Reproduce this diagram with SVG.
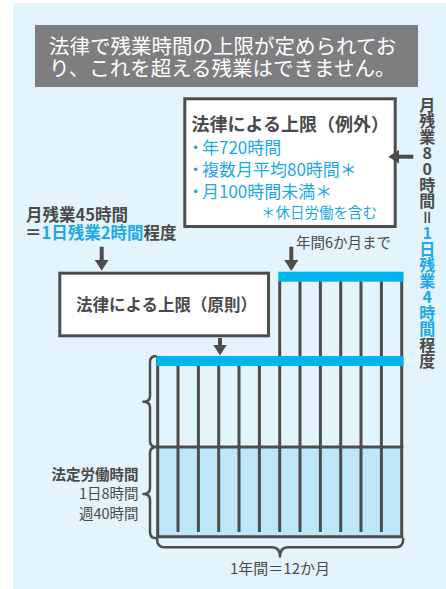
<svg xmlns="http://www.w3.org/2000/svg" width="446" height="589" viewBox="0 0 446 589">
<defs>
<style>
text{font-family:"Noto Sans CJK JP","Noto Sans CJK SC",sans-serif;fill:#4a4a4a}
.b{font-weight:700}
.n{font-weight:400}
.blue{fill:#1ca9e6}
.box{fill:#fff;stroke:#4d4d4d;stroke-width:3}
.ln{stroke:#4d4d4d;stroke-width:3;fill:none}
.arr{stroke:#4d4d4d;stroke-width:4;fill:none;marker-end:url(#ah)}
.brace{stroke:#4d4d4d;stroke-width:2.5;fill:none;stroke-linejoin:round}
.bar{fill:#00b4ef}
</style>
<marker id="ah" viewBox="0 0 11 14" refX="3" refY="7" markerWidth="11" markerHeight="14" orient="auto" markerUnits="userSpaceOnUse">
<path d="M0,0 L11,7 L0,14 Z" fill="#4d4d4d"/>
</marker>
</defs>
<rect x="13" y="3" width="433" height="586" fill="#e3f4fc"/>

<g id="title">
<rect x="35" y="25" width="383" height="62" fill="#7e7e80"/>
<text font-size="20.5" style="fill:#fff"><tspan x="49" y="53.5">法律で残業時間の上限が定められてお</tspan><tspan x="49" y="75.5">り、これを超える残業はできません。</tspan></text>
</g>

<g id="exception">
<rect class="box" x="184.8" y="98.8" width="210.4" height="127.7"/>
<text class="b" font-size="18"><tspan x="191.5" y="130.5">法律による上限（例外）</tspan><tspan class="blue n" font-size="17" x="187" y="154">・<tspan dx="-2">年720時間</tspan></tspan><tspan class="blue n" font-size="17" x="187" y="176">・<tspan dx="-2">複数月平均80時間＊</tspan></tspan><tspan class="blue n" font-size="17" x="187" y="198">・<tspan dx="-2">月100時間未満＊</tspan></tspan><tspan class="blue n" font-size="14.5" x="261" y="218">＊休日労働を含む</tspan></text>
</g>

<g id="monthly80">
<text class="b" x="427.3" y="97" font-size="16" style="writing-mode:vertical-rl;text-orientation:upright">月残業80時間＝<tspan class="blue">1日残業4時間</tspan>程度</text>
</g>

<g id="monthly45">
<text class="b" font-size="16.5"><tspan x="26" y="220.5">月残業45時間</tspan><tspan x="25" y="239">＝<tspan class="blue">1日残業2時間</tspan>程度</tspan></text>
</g>

<g id="principle">
<rect class="box" x="59.8" y="273.2" width="208.7" height="62.6"/>
<text class="b" x="76" y="310.5" font-size="16.5">法律による上限（原則）</text>
</g>

<g id="sixmonths">
<text x="296" y="247.5" font-size="14.5">年間6か月まで</text>
</g>

<g id="chart">
<rect x="157.7" y="447" width="244" height="89.7" fill="#bde6f9"/>
<g class="ln">
<line x1="157.7" y1="356" x2="157.7" y2="538"/>
<line x1="178" y1="366" x2="178" y2="532"/>
<line x1="198.4" y1="366" x2="198.4" y2="532"/>
<line x1="218.7" y1="366" x2="218.7" y2="532"/>
<line x1="239" y1="366" x2="239" y2="532"/>
<line x1="259.4" y1="366" x2="259.4" y2="532"/>
<line x1="279.7" y1="281" x2="279.7" y2="532"/>
<line x1="300" y1="281" x2="300" y2="532"/>
<line x1="320.4" y1="281" x2="320.4" y2="532"/>
<line x1="340.7" y1="281" x2="340.7" y2="532"/>
<line x1="361" y1="281" x2="361" y2="532"/>
<line x1="381.4" y1="281" x2="381.4" y2="532"/>
<line x1="401.7" y1="281" x2="401.7" y2="538"/>
<line x1="156.2" y1="447" x2="403.2" y2="447"/>
<line x1="156.2" y1="536.7" x2="403.2" y2="536.7"/>
</g>
<rect class="bar" x="156.5" y="356" width="247" height="10"/>
<rect class="bar" x="278.3" y="271.7" width="125.2" height="10"/>
</g>

<g id="braces">
<path class="brace" d="M156.5,356 Q150,356 150,362 L150,396 Q150,401.7 143.5,401.7 Q150,401.7 150,407.5 L150,441 Q150,447 156.5,447"/>
<path class="brace" d="M156.5,447 Q150,447 150,453 L150,488 Q150,494 143.5,494 Q150,494 150,500 L150,532 Q150,538.3 156.5,538.3"/>
<path class="brace" d="M157,538 Q157,547.3 164,547.3 L272,547.3 Q280,547.3 280,556.5 Q280,547.3 288,547.3 L396,547.3 Q403.3,547.3 403.3,538"/>
</g>

<g id="legal">
<text font-size="14.5" text-anchor="end"><tspan class="b" x="138.5" y="480">法定労働時間</tspan><tspan x="138.5" y="499">1日8時間</tspan><tspan x="138.5" y="518.5">週40時間</tspan></text>
</g>

<g id="year">
<text x="280" y="574" font-size="15" text-anchor="middle">1年間＝12か月</text>
</g>

<g id="connectors">
<line class="arr" x1="101.7" y1="246.7" x2="101.7" y2="262.7"/>
<line class="arr" x1="220" y1="338" x2="220" y2="347.5"/>
<line class="arr" x1="291.3" y1="246.7" x2="291.3" y2="263"/>
<line class="arr" x1="413.3" y1="156.7" x2="396.3" y2="156.7"/>
</g>
</svg>
